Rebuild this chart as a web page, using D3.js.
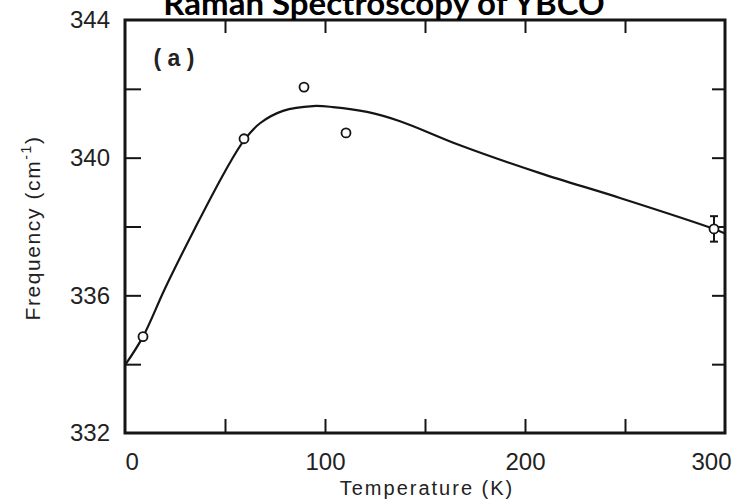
<!DOCTYPE html>
<html>
<head>
<meta charset="utf-8">
<script src="https://cdn.jsdelivr.net/npm/d3@7"></script>
<style>
body { margin: 0; background: #fff; }
svg { display: block; }
</style>
</head>
<body>
<svg id="chart" width="733" height="499"></svg>
<script>
// measured points
var tempK = [9, 59.5, 89.5, 110.5, 294.5];
var freq = [334.8, 340.55, 342.05, 340.72, 337.93];
var freqErr = [0, 0, 0, 0, 0.37];

// hand drawn fit line
var fitT = [0, 9, 20, 35, 50, 59.5, 67.5, 79, 94, 104, 121, 137.5, 167.5, 207.5, 247.5, 294.5, 300];
var fitF = [333.97, 334.8, 336.2, 337.95, 339.6, 340.5, 341.0, 341.36, 341.5, 341.47, 341.33, 341.06, 340.36, 339.55, 338.83, 337.93, 337.8];

var xLabels = [0, 100, 200, 300];
var xTicks = [50, 100, 150, 200, 250];
var yLabels = [332, 336, 340, 344];
var yTicks = [334, 336, 338, 340, 342];

var svg = d3.select('#chart');
var ink = '#151515';

var x = d3.scaleLinear().domain([0, 300]).range([125, 725]);
var y = d3.scaleLinear().domain([332, 344]).range([433, 20]);

function clean(g) {
	g.select('.domain').remove();
	g.selectAll('line').attr('stroke', ink).attr('stroke-width', 2);
	g.selectAll('text')
		.attr('fill', '#222')
		.style('font-family', '"Liberation Sans", Arial, sans-serif')
		.style('font-size', '24px');
	g.attr('font-size', null).attr('font-family', null);
}

// inward ticks on all four sides
svg.append('g').attr('transform', 'translate(0,433)')
	.call(d3.axisBottom(x).tickValues(xTicks).tickSize(-14).tickFormat(''))
	.call(clean);
svg.append('g').attr('transform', 'translate(0,20)')
	.call(d3.axisTop(x).tickValues(xTicks).tickSize(-13).tickFormat(''))
	.call(clean);
svg.append('g').attr('transform', 'translate(125,0)')
	.call(d3.axisLeft(y).tickValues(yTicks).tickSize(-16).tickFormat(''))
	.call(clean);
svg.append('g').attr('transform', 'translate(725,0)')
	.call(d3.axisRight(y).tickValues(yTicks).tickSize(-13).tickFormat(''))
	.call(clean);

// tick labels
var xl = svg.append('g').attr('transform', 'translate(0,433)')
	.call(d3.axisBottom(x).tickValues(xLabels).tickSize(0).tickPadding(20))
	.call(clean);
xl.selectAll('text').filter(function(d) {return d === 0;}).attr('text-anchor', 'start');
xl.selectAll('text').filter(function(d) {return d === 300;}).attr('dx', -14);

svg.append('g').attr('transform', 'translate(125,0)')
	.call(d3.axisLeft(y).tickValues(yLabels).tickSize(0).tickPadding(15))
	.call(clean);

// frame
svg.append('rect')
	.attr('x', x(0)).attr('y', y(344))
	.attr('width', x(300) - x(0)).attr('height', y(332) - y(344))
	.attr('fill', 'none').attr('stroke', ink).attr('stroke-width', 3);

// fit curve
var fit = fitT.map(function(t, i) {return [t, fitF[i]];});
var line = d3.line()
	.x(function(d) {return x(d[0]);})
	.y(function(d) {return y(d[1]);})
	.curve(d3.curveCatmullRom.alpha(0.5));
svg.append('path')
	.attr('d', line(fit))
	.attr('fill', 'none').attr('stroke', ink).attr('stroke-width', 2.2);

// data
var pts = tempK.map(function(t, i) {return {t: t, f: freq[i], e: freqErr[i]};});
var eb = svg.append('g').selectAll('g').data(pts.filter(function(d) {return d.e > 0;}))
	.enter().append('g').attr('stroke', ink).attr('stroke-width', 2);
eb.append('line')
	.attr('x1', function(d) {return x(d.t);}).attr('x2', function(d) {return x(d.t);})
	.attr('y1', function(d) {return y(d.f + d.e);}).attr('y2', function(d) {return y(d.f - d.e);});
eb.append('line')
	.attr('x1', function(d) {return x(d.t) - 4;}).attr('x2', function(d) {return x(d.t) + 4;})
	.attr('y1', function(d) {return y(d.f + d.e);}).attr('y2', function(d) {return y(d.f + d.e);});
eb.append('line')
	.attr('x1', function(d) {return x(d.t) - 4;}).attr('x2', function(d) {return x(d.t) + 4;})
	.attr('y1', function(d) {return y(d.f - d.e);}).attr('y2', function(d) {return y(d.f - d.e);});

svg.append('g').selectAll('circle').data(pts).enter().append('circle')
	.attr('cx', function(d) {return x(d.t);})
	.attr('cy', function(d) {return y(d.f);})
	.attr('r', 4.5)
	.attr('fill', '#fff').attr('stroke', ink).attr('stroke-width', 1.8);

// labels
svg.append('text')
	.attr('x', 384).attr('y', 15)
	.attr('text-anchor', 'middle')
	.style('font-family', 'Lato, "Open Sans", sans-serif')
	.style('font-weight', 'bold')
	.style('font-size', '33px')
	.attr('fill', '#000')
	.text('Raman Spectroscopy of YBCO');

svg.append('text')
	.attr('x', 174).attr('y', 66)
	.attr('text-anchor', 'middle')
	.style('font-family', '"Liberation Sans", Arial, sans-serif')
	.style('font-weight', 'bold')
	.style('font-size', '23px')
	.attr('fill', '#222')
	.text('( a )');

svg.append('text')
	.attr('x', 427).attr('y', 495)
	.attr('text-anchor', 'middle')
	.style('font-family', '"Liberation Sans", Arial, sans-serif')
	.style('font-size', '20px')
	.style('letter-spacing', '2px')
	.attr('fill', '#222')
	.text('Temperature (K)');

var yt = svg.append('text')
	.attr('transform', 'translate(40,228) rotate(-90)')
	.attr('text-anchor', 'middle')
	.style('font-family', '"Liberation Sans", Arial, sans-serif')
	.style('font-size', '21px')
	.style('letter-spacing', '1.6px')
	.attr('fill', '#222');
yt.append('tspan').text('Frequency (cm');
yt.append('tspan').attr('dy', -9).style('font-size', '14px').text('-1');
yt.append('tspan').attr('dy', 9).text(')');
</script>
</body>
</html>
